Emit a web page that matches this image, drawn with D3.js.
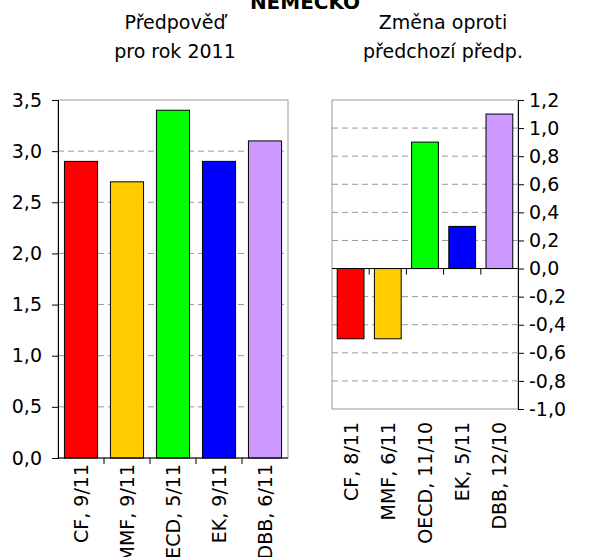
<!DOCTYPE html>
<html><head><meta charset="utf-8">
<script src="https://cdn.jsdelivr.net/npm/d3@7"></script>
<style>body{margin:0;background:#fff}</style>
</head><body>
<script>
// chart data
var leftCats = ["CF, 9/11", "MMF, 9/11", "OECD, 5/11", "EK, 9/11", "DBB, 6/11"];
var leftValues = [2.9, 2.7, 3.4, 2.9, 3.1];
var rightCats = ["CF, 8/11", "MMF, 6/11", "OECD, 11/10", "EK, 5/11", "DBB, 12/10"];
var rightValues = [-0.5, -0.5, 0.9, 0.3, 1.1];
var colors = ["#ff0000", "#ffcc00", "#00ff00", "#0000ff", "#cc99ff"];
var leftTicks = [0, 0.5, 1, 1.5, 2, 2.5, 3, 3.5];
var rightTicks = [-1, -0.8, -0.6, -0.4, -0.2, 0, 0.2, 0.4, 0.6, 0.8, 1, 1.2];

var fmt = d => d3.format(".1f")(d).replace(".", ",").replace("−", "-");
var font = "Verdana, 'DejaVu Sans', sans-serif";
var fs = 19;

var svg = d3.select("body").append("svg")
  .attr("width", 610).attr("height", 557)
  .attr("font-family", font).attr("font-size", fs);

svg.append("text").attr("x", 305).attr("y", 9).attr("text-anchor", "middle")
  .attr("font-weight", "bold").attr("font-size", 20).text("NĚMECKO");

function title(x, lines) {
  lines.forEach((t, i) => svg.append("text").attr("x", x).attr("y", 29 + i * 29)
    .attr("text-anchor", "middle").text(t));
}
title(175, ["Předpověď", "pro rok 2011"]);
title(443, ["Změna oproti", "předchozí předp."]);

function panel(o) {
  var x = d3.scaleBand().domain(o.cats).range([o.x0, o.x1]).paddingInner(0.28).paddingOuter(0.14);
  var xb = d3.scaleBand().domain(o.cats).range([o.x0, o.x1]);
  var y = d3.scaleLinear().domain(o.domain).range([o.y1, o.y0]);
  var g = svg.append("g");
  g.selectAll(".grid").data(o.ticks.filter(t => t !== o.domain[0] && t !== o.domain[1] && t !== 0))
    .join("line").attr("x1", o.x0).attr("x2", o.x1)
    .attr("y1", d => y(d)).attr("y2", d => y(d))
    .attr("stroke", "#999").attr("stroke-dasharray", "6,4");
  g.append("rect").attr("x", o.x0).attr("y", o.y0).attr("width", o.x1 - o.x0)
    .attr("height", o.y1 - o.y0).attr("fill", "none").attr("stroke", "#999");
  g.selectAll(".bar").data(o.values).join("rect")
    .attr("x", (d, i) => x(o.cats[i])).attr("width", x.bandwidth())
    .attr("y", d => y(Math.max(0, d))).attr("height", d => Math.abs(y(d) - y(0)))
    .attr("fill", (d, i) => colors[i]).attr("stroke", "#000");
  var ax = o.right ? d3.axisRight(y) : d3.axisLeft(y);
  var ya = g.append("g").attr("transform", `translate(${o.right ? o.x1 : o.x0},0)`)
    .call(ax.tickValues(o.ticks).tickFormat(fmt).tickSize(6).tickPadding(o.right ? 5 : 10));
  ya.select(".domain").attr("stroke", "#000");
  ya.selectAll("text").attr("font-size", fs).attr("font-family", font).attr("fill", "#000");
  var z = y(0);
  g.append("line").attr("x1", o.x0).attr("x2", o.x1).attr("y1", z).attr("y2", z).attr("stroke", "#000");
  g.selectAll(".xt").data(o.cats.slice(1)).join("line")
    .attr("x1", d => xb(d)).attr("x2", d => xb(d)).attr("y1", z).attr("y2", z + 6).attr("stroke", "#000");
  g.selectAll(".xl").data(o.cats).join("text")
    .attr("transform", d => `translate(${xb(d) + xb.bandwidth() / 2 + 7},${o.labelTop}) rotate(-90)`)
    .attr("text-anchor", "end").text(d => d);
}

panel({cats: leftCats, values: leftValues, x0: 58, x1: 288, y0: 100, y1: 458,
  domain: [0, 3.5], ticks: leftTicks, right: false, labelTop: 464});
panel({cats: rightCats, values: rightValues, x0: 332, x1: 518, y0: 100, y1: 409,
  domain: [-1, 1.2], ticks: rightTicks, right: true, labelTop: 422});
</script>
</body></html>
